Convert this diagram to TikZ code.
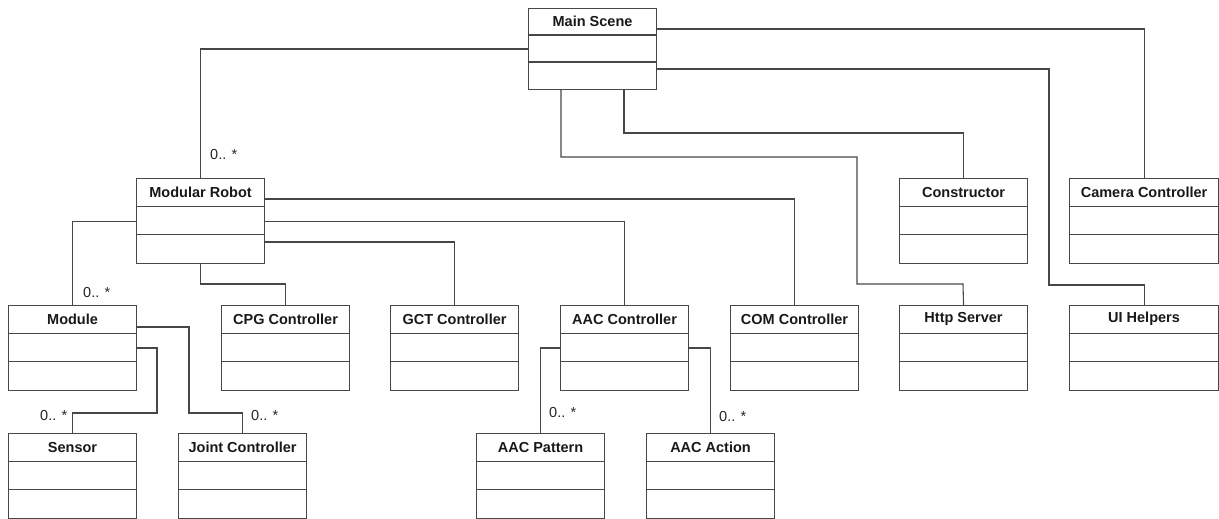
\documentclass[tikz,border=0pt]{standalone}
\usepackage{fontspec}
\setmainfont{Liberation Sans}
\usetikzlibrary{calc}
\tikzset{
  cls/.style={draw=black!72, line width=1.1pt, fill=white, rectangle, inner sep=0pt, anchor=north west},
  ctitle/.style={font=\fontsize{14.5}{16}\selectfont\bfseries, text=black!90, inner sep=0pt},
  mult/.style={font=\fontsize{14.5}{16}\selectfont, text=black!85, inner sep=0pt, anchor=west},
  conn/.style={draw=black!72, line width=1.1pt},
}
\newcommand{\umlclass}[6]{%
  \node[cls, minimum width=#4pt, minimum height=#5pt] (#1) at (#2,#3) {};
  \draw[conn] ($(#1.north west)+(0,#5/3)$) -- ($(#1.north east)+(0,#5/3)$);
  \draw[conn] ($(#1.north west)+(0,2*#5/3)$) -- ($(#1.north east)+(0,2*#5/3)$);
  \node[ctitle] (#1-t) at ($(#1.north)+(0,#5/6)$) {#6};
}
\begin{document}
\begin{tikzpicture}[x=1pt,y=-1pt]
\useasboundingbox (0,0) rectangle (1219,519);
% classes
\umlclass{ms}{528}{8}{128}{81}{Main Scene}
\umlclass{mr}{136}{178}{128}{85}{Modular Robot}
\umlclass{con}{899}{178}{128}{85}{Constructor}
\umlclass{cam}{1069}{178}{149}{85}{Camera Controller}
\umlclass{mod}{8}{305}{128}{85}{Module}
\umlclass{cpg}{221}{305}{128}{85}{CPG Controller}
\umlclass{gct}{390}{305}{128}{85}{GCT Controller}
\umlclass{aac}{560}{305}{128}{85}{AAC Controller}
\umlclass{com}{730}{305}{128}{85}{COM Controller}
\umlclass{http}{899}{305}{128}{85}{Http Server}
\umlclass{ui}{1069}{305}{149}{85}{UI Helpers}
\umlclass{sen}{8}{433}{128}{85}{Sensor}
\umlclass{joint}{178}{433}{128}{85}{Joint Controller}
\umlclass{pat}{476}{433}{128}{85}{AAC Pattern}
\umlclass{act}{646}{433}{128}{85}{AAC Action}
% connectors from Main Scene
\draw[conn] (ms.west) -| (mr.north);
\draw[conn] ($(ms.north east)+(0,21)$) -| (cam.north);
\draw[conn] ($(ms.north east)+(0,61)$) -| (1049,285) -| (ui.north);
\draw[conn] ($(ms.south west)+(96,0)$) |- ($(con.north)+(0,-45)$) -| (con.north);
\draw[conn] ($(ms.south west)+(33,0)$) |- (857,157) |- (963,284) -- (http.north);
% connectors from Modular Robot
\draw[conn] ($(mr.north east)+(0,21)$) -| (com.north);
\draw[conn] (mr.east) -| (aac.north);
\draw[conn] ($(mr.north east)+(0,64)$) -| (gct.north);
\draw[conn] (mr.south) |- ($(cpg.north)+(0,-21)$) -| (cpg.north);
\draw[conn] (mr.west) -| (mod.north);
% connectors from Module
\draw[conn] ($(mod.north east)+(0,22)$) -| (189,413) -| (joint.north);
\draw[conn] ($(mod.north east)+(0,43)$) -| (157,413) -| (sen.north);
% connectors from AAC Controller
\draw[conn] ($(aac.north west)+(0,43)$) -| (pat.north);
\draw[conn] ($(aac.north east)+(0,43)$) -| (act.north);
% multiplicities
\node[mult] (m1) at (210,155) {0.. *};
\node[mult] (m2) at (83,293) {0.. *};
\node[mult] (m3) at (40,416) {0.. *};
\node[mult] (m4) at (251,416) {0.. *};
\node[mult] (m5) at (549,413) {0.. *};
\node[mult] (m6) at (719,417) {0.. *};
\end{tikzpicture}
\end{document}
